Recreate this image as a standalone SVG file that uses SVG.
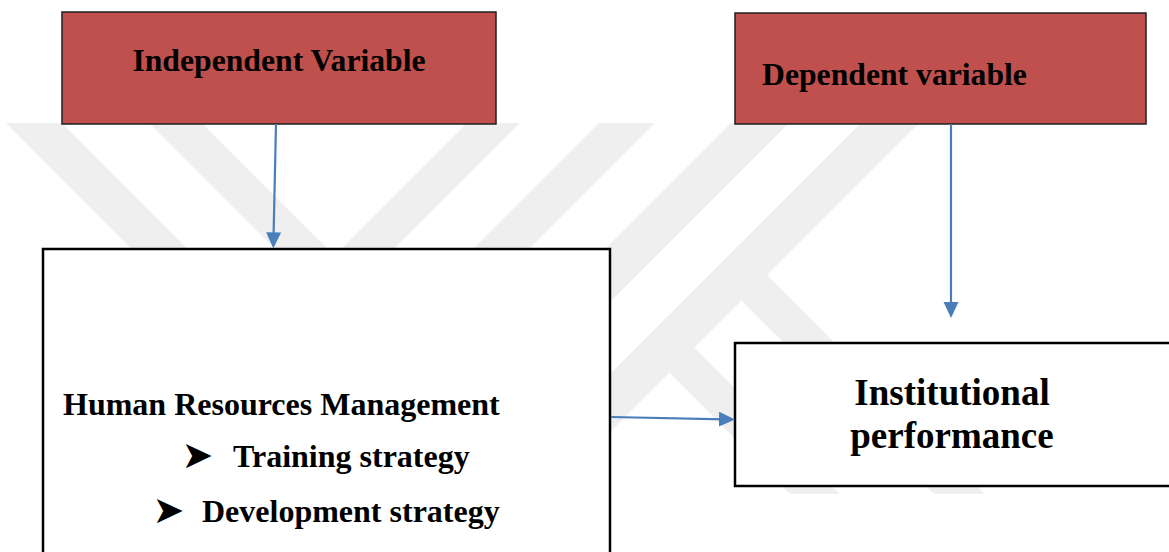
<svg xmlns="http://www.w3.org/2000/svg" width="1169" height="552" viewBox="0 0 1169 552">
  <style>
    .label { font-family: "Liberation Serif", "Times New Roman", serif; font-weight: bold; fill: #000; }
    .var { fill: #c0504d; stroke: #1f1f1f; stroke-width: 1.5; }
    .plain { fill: #ffffff; stroke: #000; stroke-width: 2.5; }
    .link { fill: none; stroke: #4a7ebb; stroke-width: 2.2; marker-end: url(#head); }
    .mark { font-family: "DejaVu Sans", sans-serif; fill: #000; }
    .wm { fill: #efefef; }
  </style>
  <defs>
    <marker id="head" markerUnits="userSpaceOnUse" markerWidth="16" markerHeight="16" refX="6" refY="8" orient="auto">
      <path d="M0,0.5 L16,8 L0,15.5 z" fill="#4a7ebb"/>
    </marker>
  </defs>

  <rect width="1169" height="552" fill="#ffffff"/>

  <!-- faint background emblem made of 45-degree bands -->
  <g id="emblem">
    <polygon class="wm" points="6,123 62,123 338,400 282,400"/>
    <polygon class="wm" points="149,123 202,123 479,400 426,400"/>
    <polygon class="wm" points="467,123 520,123 243,400 190,400"/>
    <polygon class="wm" points="599,123 655,123 378,400 322,400"/>
    <polygon class="wm" points="731,123 789,123 462,450 404,450"/>
    <polygon class="wm" points="861,123 919,123 492,550 434,550"/>
    <polygon class="wm" points="738,246 985,494 934,494 712.5,271.5"/>
    <polygon class="wm" points="665.5,318.5 840,494 790,494 640.5,343.5"/>
  </g>

  <g id="independent">
    <rect class="var" x="62" y="12" width="434" height="112"/>
    <text class="label" x="279" y="71" font-size="31.7" text-anchor="middle">Independent Variable</text>
  </g>

  <g id="dependent">
    <rect class="var" x="735" y="13" width="411" height="111"/>
    <text class="label" x="762" y="85" font-size="31.7">Dependent variable</text>
  </g>

  <g id="hrm">
    <rect class="plain" x="43" y="249" width="567" height="330"/>
    <text class="label" x="63" y="415" font-size="32">Human Resources Management</text>
    <text class="mark" x="181.5" y="468" font-size="38">➤</text>
    <text class="label" x="233" y="467" font-size="32">Training strategy</text>
    <text class="mark" x="152.5" y="523" font-size="38">➤</text>
    <text class="label" x="202" y="522" font-size="32">Development strategy</text>
  </g>

  <g id="performance">
    <rect class="plain" x="735" y="343" width="460" height="143"/>
    <text class="label" x="952" y="405" font-size="37" text-anchor="middle">Institutional</text>
    <text class="label" x="952" y="448" font-size="37" text-anchor="middle">performance</text>
  </g>

  <g id="connectors">
    <line class="link" x1="276" y1="124" x2="273.5" y2="238.3"/>
    <line class="link" x1="951" y1="124" x2="951" y2="308"/>
    <line class="link" x1="611" y1="417" x2="725" y2="419.3"/>
  </g>
</svg>
